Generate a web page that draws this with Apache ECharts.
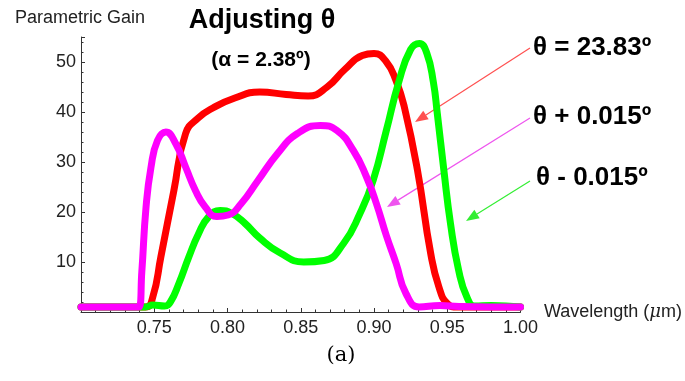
<!DOCTYPE html>
<html><head><meta charset="utf-8">
<script src="https://cdn.jsdelivr.net/npm/echarts@6/dist/echarts.min.js"></script>
<style>html,body{margin:0;padding:0;background:#fff}#c{width:685px;height:381px}</style>
</head><body><div id="c"></div>
<script>
// wavelength (µm), parametric gain pairs
const redTheta = [[0.700,1],[0.744,1],[0.749,3],[0.7545,11],[0.7634,24.3],[0.7714,35.7],[0.780,38.8],[0.790,40.8],[0.805,42.8],[0.822,44],[0.840,43.5],[0.855,43.2],[0.868,45],[0.880,48.5],[0.892,51.3],[0.900,51.7],[0.908,50.2],[0.915,46.3],[0.9207,41],[0.9297,28.3],[0.9387,11.7],[0.9443,5],[0.950,1.7],[0.957,1],[1.000,1]];
const greenMinus = [[0.700,1],[0.744,1],[0.749,1.4],[0.757,1.2],[0.761,2],[0.7668,5.7],[0.7736,11],[0.7803,15.7],[0.787,19],[0.795,20.3],[0.803,19.7],[0.812,17.7],[0.822,14.8],[0.836,11.8],[0.852,10],[0.866,10.3],[0.8792,13.7],[0.8904,19.7],[0.8994,26.3],[0.9084,36.3],[0.9169,46],[0.925,52.5],[0.931,53.7],[0.936,51.8],[0.9405,46],[0.9432,39.7],[0.9477,28.3],[0.9522,17.7],[0.9578,8.3],[0.9634,3],[0.969,1.2],[0.980,1.3],[1.000,1]];
const magentaPlus = [[0.700,1],[0.7395,1],[0.7415,8],[0.7444,21],[0.7478,29],[0.7522,34.3],[0.7579,36],[0.7646,33.7],[0.7714,29],[0.7781,24.3],[0.7848,21],[0.7927,19.1],[0.8004,19.4],[0.8094,21.7],[0.8208,26.3],[0.8342,31.7],[0.8477,35.7],[0.8634,37.3],[0.8747,36.3],[0.8859,32.3],[0.8949,27],[0.9016,21.7],[0.9084,15.3],[0.9151,9.7],[0.9218,3.7],[0.9308,1],[0.945,1.3],[0.958,1.1],[1.000,1]];
const xTickLabels = ['0.75','0.80','0.85','0.90','0.95','1.00'];
const yTickLabels = ['10','20','30','40','50'];

const chart = echarts.init(document.getElementById('c'));
const axisCol = '#333';
function arrow(x1,y1,x2,y2,col){
  const dx=x2-x1, dy=y2-y1, L=Math.hypot(dx,dy), ux=dx/L, uy=dy/L;
  const hl=13, hw=5;
  const bx=x2-ux*hl, by=y2-uy*hl;
  return [
    {type:'line',shape:{x1:x1,y1:y1,x2:bx,y2:by},style:{stroke:col,lineWidth:1.2}},
    {type:'polygon',shape:{points:[[x2,y2],[bx-uy*hw,by+ux*hw],[bx+uy*hw,by-ux*hw]]},style:{fill:col}}
  ];
}
const mkSeries = (name,data,color)=>({
  name, type:'line', data, smooth:0.5, showSymbol:false, clip:false,
  lineStyle:{color, width:7, cap:'round', join:'round'}, itemStyle:{color}
});
chart.setOption({
  animation:false,
  grid:{left:81,right:159,top:37,bottom:69},
  xAxis:{type:'value',min:0.70,max:1.0,interval:0.05,
    axisLine:{lineStyle:{color:axisCol,width:1}},
    axisTick:{inside:true,length:4,lineStyle:{color:axisCol}},
    minorTick:{show:true,splitNumber:5,length:2.5,lineStyle:{color:axisCol}},
    splitLine:{show:false},
    axisLabel:{margin:7,fontSize:18,color:'#222',fontFamily:'Liberation Sans',
      formatter:v=>{const s=v.toFixed(2);return xTickLabels.includes(s)?s:'';}},
    name:'Wavelength ({i|μ}m)',nameLocation:'end',nameGap:11,
    nameTextStyle:{fontSize:18,color:'#222',fontFamily:'Liberation Sans',align:'left',verticalAlign:'middle',
      rich:{i:{fontStyle:'italic',fontSize:18,fontFamily:'DejaVu Serif',color:'#222'}}}
  },
  yAxis:{type:'value',min:0,max:55,interval:10,
    axisLine:{lineStyle:{color:axisCol,width:1}},
    axisTick:{inside:true,length:4,lineStyle:{color:axisCol}},
    minorTick:{show:true,splitNumber:5,length:2.5,lineStyle:{color:axisCol}},
    splitLine:{show:false},
    axisLabel:{margin:5,fontSize:18,color:'#222',fontFamily:'Liberation Sans',
      formatter:v=>{const s=String(v);return yTickLabels.includes(s)?s:'';}}
  },
  series:[
    mkSeries('θ = 23.83º',redTheta,'#ff0000'),
    mkSeries('θ - 0.015º',greenMinus,'#00ff00'),
    mkSeries('θ + 0.015º',magentaPlus,'#ff00ff')
  ],
  graphic:[
    {type:'text',x:15,y:18,style:{text:'Parametric Gain',font:'18px "Liberation Sans"',fill:'#222',textVerticalAlign:'middle'}},
    {type:'text',x:262,y:21,style:{text:'Adjusting θ',font:'bold 27px "Liberation Sans"',fill:'#000',textAlign:'center',textVerticalAlign:'middle'}},
    {type:'text',x:261,y:60,style:{text:'(α = 2.38º)',font:'bold 21px "Liberation Sans"',fill:'#000',textAlign:'center',textVerticalAlign:'middle'}},
    {type:'text',x:533,y:48,style:{text:'θ = 23.83º',font:'bold 26px "Liberation Sans"',fill:'#000',textVerticalAlign:'middle'}},
    {type:'text',x:533,y:117,style:{text:'θ + 0.015º',font:'bold 26px "Liberation Sans"',fill:'#000',textVerticalAlign:'middle'}},
    {type:'text',x:536,y:178,style:{text:'θ - 0.015º',font:'bold 26px "Liberation Sans"',fill:'#000',textVerticalAlign:'middle'}},
    {type:'text',x:341,y:356,style:{text:'(a)',font:'21px "DejaVu Serif"',fill:'#000',textAlign:'center',textVerticalAlign:'middle'}},
    ...arrow(530,48,415,122,'#ff5050'),
    ...arrow(530,118,387,207,'#ee55ee'),
    ...arrow(530,181,466,221,'#33ee33')
  ]
});
</script></body></html>
